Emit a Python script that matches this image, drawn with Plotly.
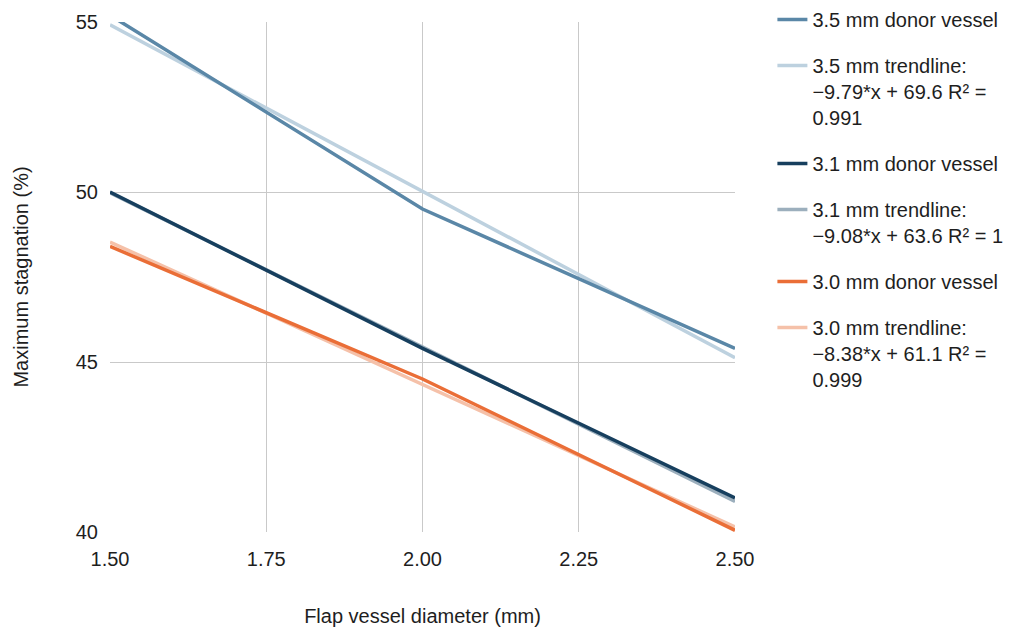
import plotly.graph_objects as go

x_vals = [1.5, 2.0, 2.5]
donor_35 = [55.2, 49.5, 45.4]
donor_31 = [50.0, 45.4, 41.0]
donor_30 = [48.4, 44.5, 40.05]

trend_x = [1.5, 2.5]
trend_35 = [-9.79 * 1.5 + 69.6, -9.79 * 2.5 + 69.6]
trend_31 = [-9.08 * 1.5 + 63.6, -9.08 * 2.5 + 63.6]
trend_30 = [-8.38 * 1.5 + 61.1, -8.38 * 2.5 + 61.1]

names = [
    "3.5 mm donor vessel",
    "3.5 mm trendline:<br>\u22129.79*x + 69.6 R\u00b2 =<br>0.991",
    "3.1 mm donor vessel",
    "3.1 mm trendline:<br>\u22129.08*x + 63.6 R\u00b2 = 1",
    "3.0 mm donor vessel",
    "3.0 mm trendline:<br>\u22128.38*x + 61.1 R\u00b2 =<br>0.999",
]
colors = ["#5a87a7", "#bdd1df", "#173f5e", "#9cafbd", "#ea6e37", "#f5c1a9"]

x_ticks = [1.5, 1.75, 2.0, 2.25, 2.5]
x_ticktext = ["1.50", "1.75", "2.00", "2.25", "2.50"]
y_ticks = [40, 45, 50, 55]

fig = go.Figure()

# trendlines drawn first (under data lines)
trend_sets = [(trend_35, 1), (trend_31, 3), (trend_30, 5)]
for ys, i in trend_sets:
    fig.add_trace(go.Scatter(x=trend_x, y=ys, mode="lines", name=names[i],
                             line=dict(color=colors[i], width=3.5),
                             legendgroup=f"g{i}", legendrank=i + 1))

donor_sets = [(donor_35, 0), (donor_31, 2), (donor_30, 4)]
for ys, i in donor_sets:
    fig.add_trace(go.Scatter(x=x_vals, y=ys, mode="lines", name=names[i],
                             line=dict(color=colors[i], width=3.5),
                             legendgroup=f"g{i}", legendrank=i + 1))

font_family = "Liberation Sans, Arial, sans-serif"

fig.update_layout(
    width=1019, height=629,
    margin=dict(l=110, r=284, t=22, b=97),
    plot_bgcolor="white", paper_bgcolor="white",
    font=dict(family=font_family, size=20, color="#1e1e1e"),
    showlegend=True,
    legend=dict(
        xref="container", yref="container",
        x=0.758, xanchor="left", y=1.0, yanchor="top",
        traceorder="grouped", tracegroupgap=17,
        valign="top", itemwidth=30, maxheight=620,
        font=dict(family=font_family, size=20, color="#1e1e1e"),
        bgcolor="rgba(0,0,0,0)",
    ),
    xaxis=dict(
        range=[1.5, 2.5], tickvals=x_ticks, ticktext=x_ticktext,
        showgrid=True, gridcolor="#c9c9c9", gridwidth=1.3,
        zeroline=False, showline=False, ticks="",
        ticklabelstandoff=13, automargin=False,
        title=dict(text="Flap vessel diameter (mm)", standoff=39,
                   font=dict(size=20)),
    ),
    yaxis=dict(
        range=[40, 55], tickvals=y_ticks,
        showgrid=True, gridcolor="#c9c9c9", gridwidth=1.3,
        zeroline=False, showline=False, ticks="",
        ticklabelstandoff=11, automargin=False,
        title=dict(text="Maximum stagnation (%)", standoff=41,
                   font=dict(size=20)),
    ),
)

fig.write_html("out.html",
               config={"displayModeBar": False},
               post_script="document.body.style.margin='0px';")
